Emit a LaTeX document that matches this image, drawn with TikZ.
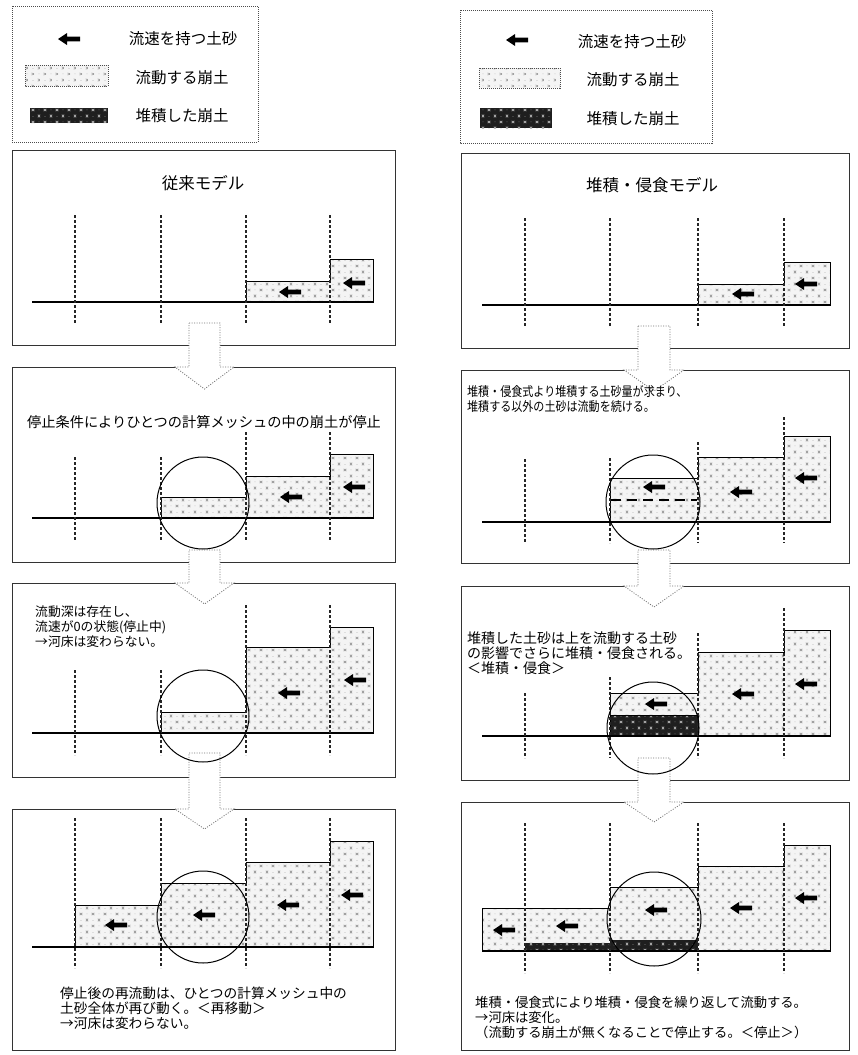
\documentclass[tikz,border=0pt]{standalone}
\usepackage{fontspec}
\newfontfamily\jp{Noto Sans CJK JP}
\usetikzlibrary{patterns}
\pgfdeclarepatternformonly{sedi}{\pgfqpoint{-1pt}{-1pt}}{\pgfqpoint{13pt}{13pt}}{\pgfqpoint{12pt}{12pt}}{%
  \pgfsetlinewidth{0.45pt}%
  \pgfpathmoveto{\pgfqpoint{1.7pt}{1.7pt}}\pgfpathlineto{\pgfqpoint{4.3pt}{4.3pt}}%
  \pgfpathmoveto{\pgfqpoint{1.7pt}{4.3pt}}\pgfpathlineto{\pgfqpoint{4.3pt}{1.7pt}}%
  \pgfpathmoveto{\pgfqpoint{3.0pt}{1.4pt}}\pgfpathlineto{\pgfqpoint{3.0pt}{4.6pt}}%
  \pgfpathmoveto{\pgfqpoint{7.7pt}{7.7pt}}\pgfpathlineto{\pgfqpoint{10.3pt}{10.3pt}}%
  \pgfpathmoveto{\pgfqpoint{7.7pt}{10.3pt}}\pgfpathlineto{\pgfqpoint{10.3pt}{7.7pt}}%
  \pgfpathmoveto{\pgfqpoint{7.4pt}{9.0pt}}\pgfpathlineto{\pgfqpoint{10.6pt}{9.0pt}}%
  \pgfpathmoveto{\pgfqpoint{8.7pt}{2.4pt}}\pgfpathlineto{\pgfqpoint{9.3pt}{2.4pt}}%
  \pgfpathmoveto{\pgfqpoint{2.7pt}{9.1pt}}\pgfpathlineto{\pgfqpoint{3.3pt}{9.1pt}}%
  \pgfusepath{stroke}}
\tikzset{
  panel/.style={draw=black!80, line width=0.9pt, fill=white},
  legbox/.style={draw=black!70, line width=0.8pt, dash pattern=on 1pt off 1pt},
  mesh/.style={draw=black!85, line width=1.1pt, dash pattern=on 3pt off 2pt},
  ground/.style={draw=black, line width=1.2pt},
  flow/.style={draw=black, line width=1pt, preaction={fill=gray!9}, pattern=sedi, pattern color=black!40},
  legflow/.style={draw=black!70, line width=0.8pt, dash pattern=on 1pt off 1pt, preaction={fill=gray!9}, pattern=sedi, pattern color=black!40},
  depo/.style={preaction={fill=black!88}, pattern=sedi, pattern color=gray!60},
  bigarrow/.style={fill=white, draw=black!55, line width=0.8pt, dash pattern=on 1pt off 1.5pt},
  lens/.style={draw=black, line width=1pt},
  sepline/.style={draw=black, line width=2pt, dash pattern=on 10pt off 6pt},
  txt/.style={inner sep=0pt, font=\jp\fontsize{#1}{#1}\selectfont},
  ltxt/.style={inner sep=0pt, anchor=west, font=\jp\fontsize{#1}{#1}\selectfont}
}
\newcommand{\sedarr}[2]{\fill[black] (#1-11,#2) -- (#1-2,#2-6) -- (#1-2,#2-2.3) -- (#1+11,#2-2.3) -- (#1+11,#2+2.3) -- (#1-2,#2+2.3) -- (#1-2,#2+6) -- cycle;}
\newcommand{\blockarr}[5]{\draw[bigarrow] (#1,#3) -- (#2,#3) -- (#2,#4) -- (#2+14,#4) -- ({(#1+#2)/2},#5) -- (#1-14,#4) -- (#1,#4) -- cycle;}
\newcommand{\meshL}[8]{%
  \draw[mesh] (75,#1) -- (75,#5); \draw[mesh] (161,#2) -- (161,#6);
  \draw[mesh] (246,#3) -- (246,#7); \draw[mesh] (330,#4) -- (330,#8);}
\newcommand{\meshR}[8]{%
  \draw[mesh] (525,#1) -- (525,#5); \draw[mesh] (610,#2) -- (610,#6);
  \draw[mesh] (698,#3) -- (698,#7); \draw[mesh] (784,#4) -- (784,#8);}
\begin{document}
\begin{tikzpicture}[x=1pt,y=-1pt]
\useasboundingbox (0,0) rectangle (857,1055);
\fill[white] (0,0) rectangle (857,1055);

% ---------- legends ----------
\draw[legbox] (12,6) rectangle (258,142);
\sedarr{69}{39}
\node[txt=15.5] (l1) at (183,39) {流速を持つ土砂};
\draw[legflow] (25,65) rectangle (108,86);
\node[txt=15.5] (l2) at (182,78) {流動する崩土};
\fill[depo] (30,108) rectangle (108,123);
\node[txt=15.5] (l3) at (182,116) {堆積した崩土};

\draw[legbox] (460,10) rectangle (712,143);
\sedarr{517}{40}
\node[txt=15.5] (r1) at (632,42) {流速を持つ土砂};
\draw[legflow] (479,68) rectangle (560,88);
\node[txt=15.5] (r2) at (633,80) {流動する崩土};
\fill[depo] (480,108) rectangle (552,128);
\node[txt=15.5] (r3) at (633,119) {堆積した崩土};

% ---------- panel frames ----------
\draw[panel] (12,150) rectangle (395,345);
\draw[panel] (12,367) rectangle (395,562);
\draw[panel] (12,583) rectangle (395,777);
\draw[panel] (12,809) rectangle (395,1050);
\draw[panel] (461,153) rectangle (849,348);
\draw[panel] (461,370) rectangle (849,563);
\draw[panel] (461,586) rectangle (849,780);
\draw[panel] (461,802) rectangle (849,1050);

% ---------- block arrows ----------
\blockarr{189}{220}{323}{367}{389}
\blockarr{189}{220}{550}{583}{604}
\blockarr{189}{220}{753}{809}{829}
\blockarr{638}{670}{326}{370}{391}
\blockarr{638}{670}{550}{586}{607}
\blockarr{638}{670}{758}{802}{822}

% ================= LEFT COLUMN =================
% panel 1
\node[txt=16.5] (tl) at (203,183) {従来モデル};
\draw[flow] (246,302) -- (246,281) -- (330,281) -- (330,259) -- (373,259) -- (373,302) -- cycle;
\draw[ground] (32,302) -- (373,302);
\meshL{215}{215}{215}{215}{323}{323}{323}{323}
\sedarr{290}{292} \sedarr{354}{283}

% panel 2
\node[ltxt=14.2] (tl2) at (27,422) {停止条件によりひとつの計算メッシュの中の崩土が停止};
\draw[flow] (161,518) -- (161,497) -- (246,497) -- (246,476) -- (330,476) -- (330,454) -- (373,454) -- (373,518) -- cycle;
\draw[ground] (32,518) -- (373,518);
\meshL{457}{457}{432}{432}{540}{540}{540}{540}
\sedarr{291}{497} \sedarr{354}{487}
\draw[lens] (203,503) circle (46);

% panel 3
\node[ltxt=12.8] (tl3a) at (35,612) {流動深は存在し、};
\node[ltxt=12.8] (tl3b) at (35,627) {流速が0の状態(停止中)};
\node[ltxt=12.8] (tl3c) at (35,642) {→河床は変わらない。};
\draw[flow] (161,733) -- (161,712) -- (246,712) -- (246,647) -- (330,647) -- (330,627) -- (373,627) -- (373,733) -- cycle;
\draw[ground] (32,733) -- (373,733);
\meshL{670}{670}{605}{605}{755}{755}{755}{755}
\sedarr{289}{693} \sedarr{355}{680}
\draw[lens] (203,716) circle (46);

% panel 4
\draw[flow] (75,947) -- (75,905) -- (161,905) -- (161,883) -- (246,883) -- (246,862) -- (330,862) -- (330,841) -- (373,841) -- (373,947) -- cycle;
\draw[ground] (32,947) -- (373,947);
\meshL{818}{818}{818}{818}{968}{968}{968}{968}
\sedarr{116}{925} \sedarr{204}{915} \sedarr{288}{905} \sedarr{352}{895}
\draw[lens] (203,917) circle (46);
\node[ltxt=13.7] (tl4a) at (60,993) {停止後の再流動は、ひとつの計算メッシュ中の};
\node[ltxt=13.7] (tl4b) at (60,1008) {土砂全体が再び動く。＜再移動＞};
\node[ltxt=13.7] (tl4c) at (60,1023) {→河床は変わらない。};

% ================= RIGHT COLUMN =================
% panel 1
\node[txt=16.5] (tr) at (652,185) {堆積・侵食モデル};
\draw[flow] (698,305) -- (698,284) -- (784,284) -- (784,262) -- (830,262) -- (830,305) -- cycle;
\draw[ground] (482,305) -- (830,305);
\meshR{218}{218}{218}{218}{327}{327}{327}{327}
\sedarr{743}{294} \sedarr{806}{284}

% panel 2
\node[ltxt=13, xscale=0.85, transform shape] (tr2a) at (467,392) {堆積・侵食式より堆積する土砂量が求まり、};
\node[ltxt=13, xscale=0.85, transform shape] (tr2b) at (467,407) {堆積する以外の土砂は流動を続ける。};
\draw[flow] (610,522) -- (610,478) -- (698,478) -- (698,457) -- (784,457) -- (784,436) -- (830,436) -- (830,522) -- cycle;
\draw[ground] (482,522) -- (830,522);
\draw[sepline] (611,500) -- (697,500);
\meshR{459}{458}{442}{417}{543}{543}{543}{543}
\sedarr{654}{487} \sedarr{741}{492} \sedarr{806}{478}
\draw[lens] (653,502) circle (47);

% panel 3
\node[ltxt=14] (tr3a) at (467,638) {堆積した土砂は上を流動する土砂};
\node[ltxt=14] (tr3b) at (467,653) {の影響でさらに堆積・侵食される。};
\node[ltxt=14] (tr3c) at (467,668) {＜堆積・侵食＞};
\draw[flow] (610,736) -- (610,693) -- (698,693) -- (698,652) -- (784,652) -- (784,630) -- (830,630) -- (830,736) -- cycle;
\fill[depo] (610,715) rectangle (698,736);
\draw[line width=1pt] (610,715) rectangle (698,736);
\draw[ground] (482,736) -- (830,736);
\meshR{693}{677}{633}{608}{758}{758}{758}{758}
\sedarr{656}{704} \sedarr{743}{694} \sedarr{806}{684}
\draw[lens] (653,728) circle (46);

% panel 4
\draw[flow] (482,951) -- (482,908) -- (610,908) -- (610,887) -- (698,887) -- (698,866) -- (784,866) -- (784,845) -- (830,845) -- (830,951) -- cycle;
\fill[depo] (525,943) rectangle (610,951);
\fill[depo] (610,940) rectangle (698,951);
\draw[ground] (482,951) -- (830,951);
\meshR{823}{823}{823}{823}{973}{973}{973}{973}
\sedarr{504}{930} \sedarr{567}{926} \sedarr{656}{910} \sedarr{741}{908} \sedarr{806}{898}
\draw[lens] (654,919) circle (47);
\node[ltxt=13.3] (tr4a) at (475,1002) {堆積・侵食式により堆積・侵食を繰り返して流動する。};
\node[ltxt=13.3] (tr4b) at (475,1017) {→河床は変化。};
\node[ltxt=13.3] (tr4c) at (475,1032) {（流動する崩土が無くなることで停止する。＜停止＞）};
\end{tikzpicture}
\end{document}
